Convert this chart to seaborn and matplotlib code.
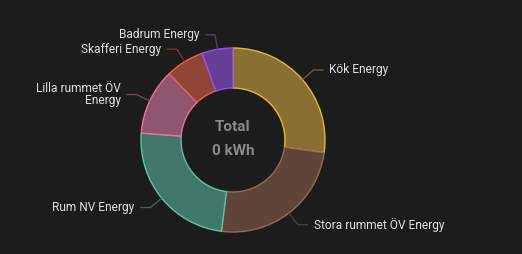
import numpy as np
import matplotlib
matplotlib.use("Agg")
import matplotlib.pyplot as plt
import seaborn as sns

labels = ["Kök Energy", "Stora rummet ÖV Energy", "Rum NV Energy",
          "Lilla rummet ÖV\nEnergy", "Skafferi Energy", "Badrum Energy"]
values = [27.2, 24.8, 24.2, 11.6, 6.8, 5.4]
fill_colors = ["#8a6f33", "#5e4538", "#41776a", "#8e5670", "#8e4538", "#653f96"]
edge_colors = ["#e8b53a", "#9a6a52", "#5ec4a4", "#ee7399", "#ef5f50", "#9354e6"]
line_colors = ["#7a6028", "#5a4030", "#3a6a5c", "#7a4a5a", "#7a3c30", "#5a3a88"]
center_title = "Total"
center_value = "0 kWh"

sns.set_theme(style="dark")
plt.rcParams['font.family'] = ['Roboto', 'DejaVu Sans']

W, H = 522, 254
cx, cy, R = 233, 140, 92
fig = plt.figure(figsize=(W / 100, H / 100), dpi=100, facecolor="#1c1c1c")
ax = fig.add_axes([0, 0, 1, 1])
ax.set_facecolor("#1c1c1c")

wedges, _ = ax.pie(values, startangle=90, counterclock=False, colors=fill_colors,
                   radius=1.0, wedgeprops=dict(width=0.435, linewidth=1.0))
for w, ec in zip(wedges, edge_colors):
    w.set_edgecolor(ec)

ax.set_xlim(-cx / R, (W - cx) / R)
ax.set_ylim(-(H - cy) / R, cy / R)
ax.set_aspect("equal", adjustable="datalim")
ax.axis("off")

for w, lab, lc in zip(wedges, labels, line_colors):
    mid = np.deg2rad((w.theta1 + w.theta2) / 2)
    x0, y0 = np.cos(mid) * 1.0, np.sin(mid) * 1.0
    x1, y1 = np.cos(mid) * 1.16, np.sin(mid) * 1.16
    side = 1 if x1 >= 0 else -1
    x2 = x1 + side * 0.11
    ax.plot([x0, x1, x2], [y0, y1, y1], color=lc, lw=0.9, solid_capstyle="butt")
    ax.text(x2 + side * 0.06, y1, lab, ha="left" if side > 0 else "right",
            va="center", color="#e1e1e1", fontsize=8.6,
            linespacing=0.95, multialignment="right")

ax.text(0, 0.14, center_title, ha="center", va="center", color="#8a8a8a",
        fontsize=11, fontweight="bold")
ax.text(0, -0.12, center_value, ha="center", va="center", color="#8a8a8a",
        fontsize=11, fontweight="bold")

fig.savefig("out.png", dpi=100, facecolor="#1c1c1c")
